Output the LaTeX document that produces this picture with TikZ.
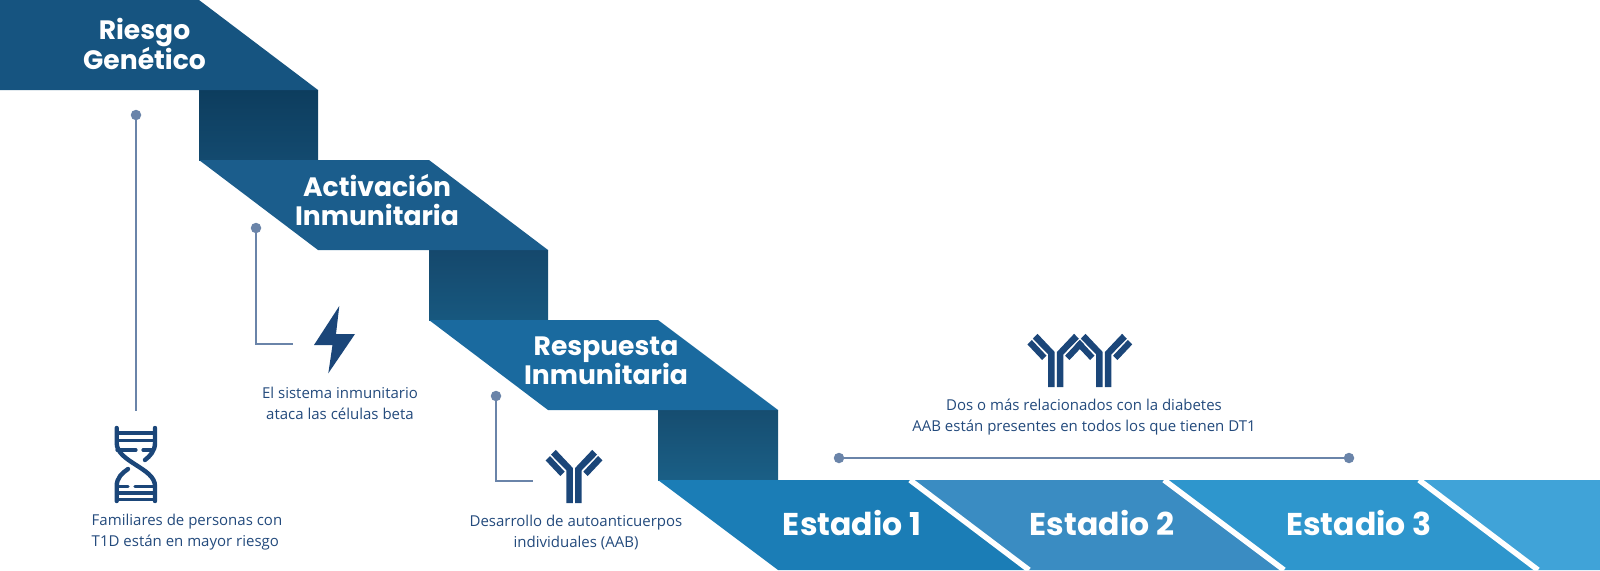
\documentclass[tikz,border=0pt]{standalone}
\usepackage{fontspec}
\setmainfont{Open Sans}
\newfontfamily\headfont{Poppins}
\usetikzlibrary{positioning}
\definecolor{iconblue}{HTML}{1B4679}
\definecolor{linkblue}{HTML}{6A84A9}
\definecolor{textblue}{HTML}{234A7C}
\definecolor{ribA}{HTML}{165480}
\definecolor{ribB}{HTML}{1B5D8C}
\definecolor{ribC}{HTML}{1A6A9F}
\definecolor{foldAtop}{HTML}{0D3D5E}
\definecolor{foldAbot}{HTML}{134A6F}
\definecolor{foldBtop}{HTML}{15486C}
\definecolor{foldBbot}{HTML}{17587F}
\definecolor{foldCtop}{HTML}{164D70}
\definecolor{foldCbot}{HTML}{1A5F86}
\definecolor{stageA}{HTML}{1B7DB6}
\definecolor{stageB}{HTML}{3A8CC2}
\definecolor{stageC}{HTML}{2E96CD}
\definecolor{stageD}{HTML}{40A3D8}
\tikzset{
  ribbontext/.style={text=white, font=\headfont\bfseries\fontsize{26.6}{29}\selectfont, align=center},
  stagetext/.style={text=white, font=\headfont\bfseries\fontsize{31.5}{32}\selectfont},
  caption/.style={text=textblue, font=\fontsize{15}{21}\selectfont, align=center},
  dot/.style={circle, fill=linkblue, inner sep=0pt, outer sep=0pt, minimum size=10.5pt},
  link/.style={draw=linkblue, line width=2.6pt},
  cut/.style={draw=white, line width=5.5pt},
  rail/.style={draw=iconblue, line width=4.4pt, line cap=round},
  rung/.style={draw=iconblue, line width=3.2pt, line cap=round},
  stem/.pic={
    \fill[iconblue] (-7.6,0) -- (-1.1,0) -- (-1.1,-35) -- (-18.3,-53.2) -- (-23,-48.3) -- (-7.6,-32.6) -- cycle;
    \fill[iconblue] (1.1,0) -- (7.6,0) -- (7.6,-32.6) -- (23,-48.3) -- (18.3,-53.2) -- (1.1,-35) -- cycle;
  },
  shortarm/.pic={
    \fill[iconblue] (-28.4,-42.6) -- (-24,-47) -- (-9.3,-31.3) -- (-13.7,-27) -- cycle;
  }
}
\begin{document}
\begin{tikzpicture}[x=1pt, y=-1pt]
\useasboundingbox (0,0) rectangle (1600,570);
% folds
\shade[top color=foldAtop, bottom color=foldAbot] (199,90) rectangle (318,160);
\shade[top color=foldBtop, bottom color=foldBbot] (429,250) rectangle (548,320);
\shade[top color=foldCtop, bottom color=foldCbot] (658,410) rectangle (778,480);
% ribbons
\fill[ribA] (0,0) -- (199,0) -- (318,90) -- (0,90) -- cycle;
\fill[ribB] (199,160) -- (429,160) -- (548,250) -- (318,250) -- cycle;
\fill[ribC] (429,320) -- (658,320) -- (778,410) -- (548,410) -- cycle;
\node[ribbontext] (genetic) at (144.5,44) {Riesgo\\Genético};
\node[ribbontext] (activation) at (377,200) {Activación\\Inmunitaria};
\node[ribbontext] (response) at (606,361) {Respuesta\\Inmunitaria};
% stages
\fill[stageA] (658,480) -- (910,480) -- (1029,570) -- (778,570) -- cycle;
\fill[stageB] (910,480) -- (1164,480) -- (1284,570) -- (1029,570) -- cycle;
\fill[stageC] (1164,480) -- (1419,480) -- (1538,570) -- (1284,570) -- cycle;
\fill[stageD] (1419,480) -- (1600,480) -- (1600,570) -- (1538,570) -- cycle;
\begin{scope}
\clip (658,480) rectangle (1600,570);
\draw[cut] (910,480) -- (1029,570);
\draw[cut] (1164,480) -- (1284,570);
\draw[cut] (1419,480) -- (1538,570);
\end{scope}
\node[stagetext] (stageone) at (852,523) {Estadio 1};
\node[stagetext] (stagetwo) at (1102,523) {Estadio 2};
\node[stagetext] (stagethree) at (1359,523) {Estadio 3};
% links
\node[dot] (dotgene) at (136,115) {};
\coordinate (endgene) at (136,411);
\draw[link] (dotgene) -- (endgene);
\node[dot] (dotbolt) at (256,228) {};
\coordinate (endbolt) at (293,344);
\draw[link] (dotbolt) |- (endbolt);
\node[dot] (dotsingle) at (496,396) {};
\coordinate (endsingle) at (533,481);
\draw[link] (dotsingle) |- (endsingle);
\node[dot] (dotstart) at (839,458) {};
\node[dot] (dotend) at (1349,458) {};
\draw[link] (dotstart) -- (dotend);
% dna
\draw[rail] (116.7,428) -- (116.7,443) .. controls (116.7,462) and (155,468) .. (155,486) -- (155,501);
\draw[rail] (155,428) -- (155,443) .. controls (155,451) and (150,456) .. (145,460);
\draw[rail] (128,469) .. controls (122,473) and (116.7,478) .. (116.7,486) -- (116.7,501);
\draw[rung, line cap=butt] (116.7,433) -- (155,433);
\draw[rung, line cap=butt] (116.7,440.5) -- (155,440.5);
\draw[rung] (117,450) -- (136,450);
\draw[rung] (143,450) -- (152,450);
\draw[rung] (119,486.7) -- (128,486.7);
\draw[rung] (135,486.7) -- (154,486.7);
\draw[rung, line cap=butt] (116.7,493) -- (155,493);
\draw[rung, line cap=butt] (116.7,499.5) -- (155,499.5);
% bolt
\fill[iconblue] (339.3,306) -- (314,345) -- (332.5,345) -- (328.3,373.3) -- (355,334) -- (336,334) -- cycle;
% antibodies
\pic at (574,503) {stem};
\pic at (574,503) {shortarm};
\pic[xscale=-1] at (574,503) {shortarm};
\pic at (1055.8,387) {stem};
\pic at (1103.8,387) {stem};
\pic at (1055.8,387) {shortarm};
\pic[xscale=-1] at (1103.8,387) {shortarm};
\pic[xscale=-1] at (1055.8,387) {shortarm};
\pic at (1103.8,387) {shortarm};
% captions
\node[caption, align=left] (capgene) at (187,532.5) {Familiares de personas con\\T1D están en mayor riesgo};
\node[caption] (capbolt) at (340,403.5) {El sistema inmunitario\\ataca las células beta};
\node[caption] (capsingle) at (576,532) {Desarrollo de autoanticuerpos\\individuales (AAB)};
\node[caption] (capmany) at (1084,417.5) {Dos o más relacionados con la diabetes\\AAB están presentes en todos los que tienen DT1};
\end{tikzpicture}
\end{document}
